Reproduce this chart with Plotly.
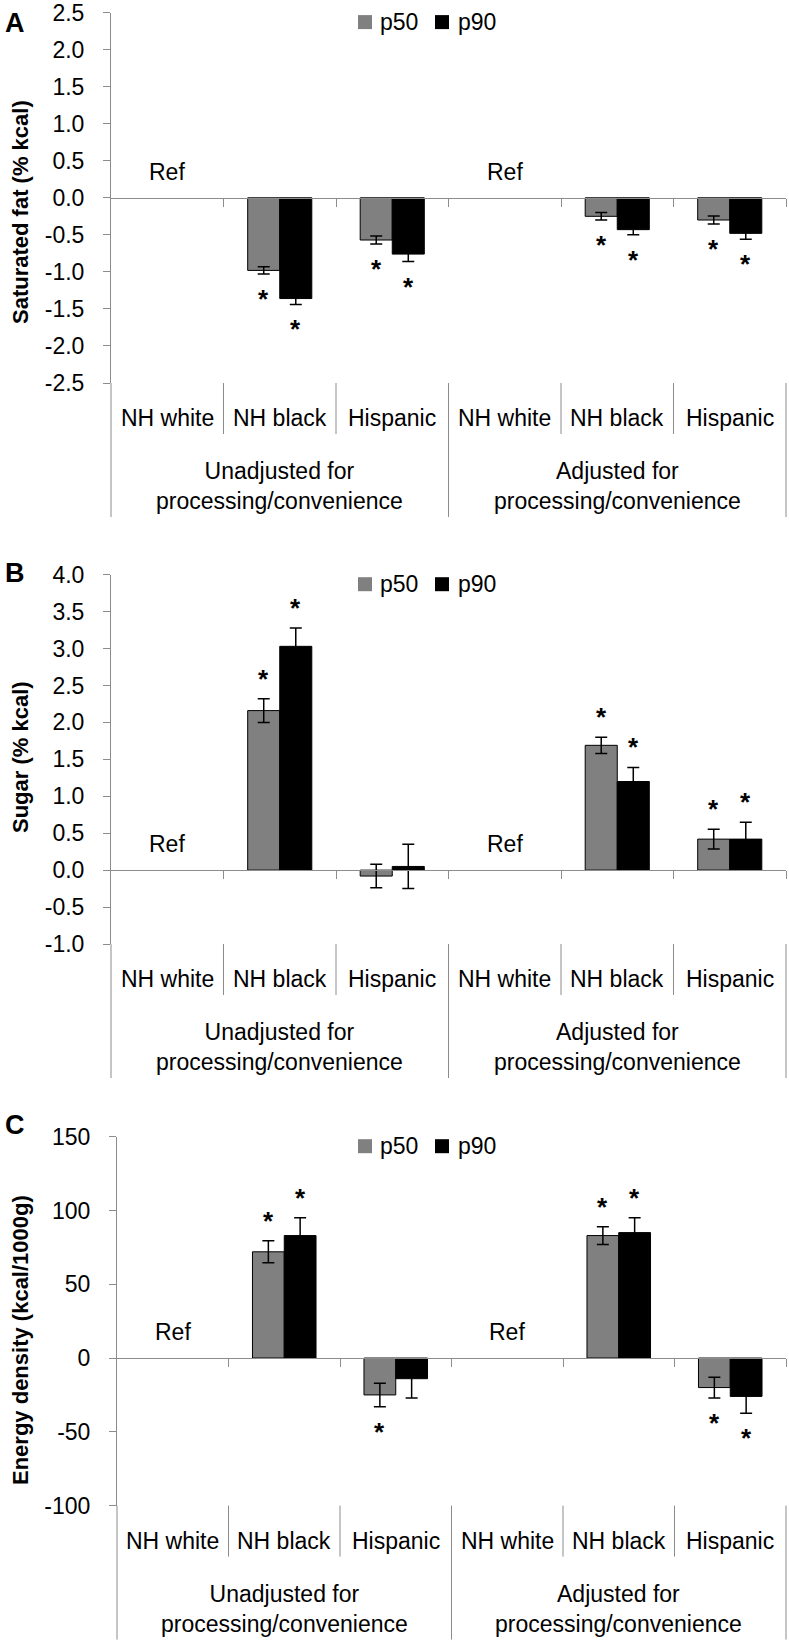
import plotly.graph_objects as go

# ---------------- data ----------------
categories = ["NH white", "NH black", "Hispanic", "NH white", "NH black", "Hispanic"]
groups = ["Unadjusted for<br>processing/convenience", "Adjusted for<br>processing/convenience"]
series_names = ["p50", "p90"]

# Panel A: Saturated fat (% kcal)
a_p50 = [None, -0.98, -0.57, None, -0.25, -0.30]
a_p50_err = [None, 0.05, 0.055, None, 0.05, 0.055]
a_p90 = [None, -1.36, -0.76, None, -0.43, -0.48]
a_p90_err = [None, 0.08, 0.10, None, 0.07, 0.08]
a_p50_sig = [0, 1, 1, 0, 1, 1]
a_p90_sig = [0, 1, 1, 0, 1, 1]

# Panel B: Sugar (% kcal)
b_p50 = [None, 2.16, -0.08, None, 1.69, 0.42]
b_p50_err = [None, 0.16, 0.16, None, 0.11, 0.135]
b_p90 = [None, 3.03, 0.05, None, 1.20, 0.42]
b_p90_err = [None, 0.25, 0.30, None, 0.19, 0.23]
b_p50_sig = [0, 1, 0, 0, 1, 1]
b_p90_sig = [0, 1, 0, 0, 1, 1]

# Panel C: Energy density (kcal/1000g)
c_p50 = [None, 72, -25, None, 83, -20]
c_p50_err = [None, 7.5, 8, None, 6, 7]
c_p90 = [None, 83, -14, None, 85, -26]
c_p90_err = [None, 12, 13, None, 10, 11.5]
c_p50_sig = [0, 1, 1, 0, 1, 1]
c_p90_sig = [0, 1, 0, 0, 1, 1]

a_ticks = [2.5, 2.0, 1.5, 1.0, 0.5, 0.0, -0.5, -1.0, -1.5, -2.0, -2.5]
a_ticktext = ["2.5", "2.0", "1.5", "1.0", "0.5", "0.0", "-0.5", "-1.0", "-1.5", "-2.0", "-2.5"]
b_ticks = [4.0, 3.5, 3.0, 2.5, 2.0, 1.5, 1.0, 0.5, 0.0, -0.5, -1.0]
b_ticktext = ["4.0", "3.5", "3.0", "2.5", "2.0", "1.5", "1.0", "0.5", "0.0", "-0.5", "-1.0"]
c_ticks = [150, 100, 50, 0, -50, -100]
c_ticktext = ["150", "100", "50", "0", "-50", "-100"]

ref_label = "Ref"
ref_index = [0, 3]
panel_letters = ["A", "B", "C"]
y_titles = ["Saturated fat (% kcal)", "Sugar (% kcal)", "Energy density (kcal/1000g)"]

# ---------------- layout / style ----------------
W, H = 789, 1643
FONT = "Liberation Sans, Arial, sans-serif"
GREY_AX = "#8c8c8c"
C50 = "#808080"
C90 = "#000000"
FS = 23
BARGAP = 0.43

panels = [
    dict(p50=a_p50, e50=a_p50_err, p90=a_p90, e90=a_p90_err, s50=a_p50_sig, s90=a_p90_sig,
         ticks=a_ticks, ticktext=a_ticktext, rng=[-2.5, 2.5],
         top=12.6, bottom=383.0, left=111, right=786, letter_y=23.5, title_y=212),
    dict(p50=b_p50, e50=b_p50_err, p90=b_p90, e90=b_p90_err, s50=b_p50_sig, s90=b_p90_sig,
         ticks=b_ticks, ticktext=b_ticktext, rng=[-1.0, 4.0],
         top=574.7, bottom=944.0, left=111, right=786, letter_y=573, title_y=757),
    dict(p50=c_p50, e50=c_p50_err, p90=c_p90, e90=c_p90_err, s50=c_p50_sig, s90=c_p90_sig,
         ticks=c_ticks, ticktext=c_ticktext, rng=[-100, 150],
         top=1136.7, bottom=1505.6, left=117, right=786, letter_y=1125, title_y=1340),
]


def py(p):
    return 1 - p / H


def px(p):
    return p / W


fig = go.Figure()
annotations = []
shapes = []
layout_axes = {}
ncat = len(categories)
bw = (1 - BARGAP) / 2

for k, P in enumerate(panels):
    sfx = "" if k == 0 else str(k + 1)
    xa, ya = "x" + sfx, "y" + sfx
    xdom = [px(P["left"]), px(P["right"])]
    ydom = [py(P["bottom"]), py(P["top"])]
    lo, hi = P["rng"]
    zero_paper = ydom[0] + (0 - lo) / (hi - lo) * (ydom[1] - ydom[0])

    for name, vals, errs, col in [("p50", P["p50"], P["e50"], C50), ("p90", P["p90"], P["e90"], C90)]:
        fig.add_trace(go.Bar(
            x=list(range(ncat)), y=vals, name=name, showlegend=False,
            marker=dict(color=col, line=dict(color="black", width=1)),
            error_y=dict(type="data", array=errs, visible=True, color="black", thickness=1.5, width=6),
            xaxis=xa, yaxis=ya,
        ))

    layout_axes["xaxis" + sfx] = dict(
        domain=xdom, range=[-0.5, ncat - 0.5], anchor="free", position=zero_paper,
        showline=True, linecolor=GREY_AX, linewidth=1, ticks="outside",
        tickvals=[i + 0.5 for i in range(ncat)], ticklen=8, tickcolor=GREY_AX,
        showticklabels=False, showgrid=False, zeroline=False, fixedrange=True,
        automargin=False,
    )
    layout_axes["yaxis" + sfx] = dict(
        domain=ydom, range=[lo, hi], anchor=xa, showline=True, linecolor=GREY_AX,
        linewidth=1, ticks="outside", ticklen=7, tickcolor=GREY_AX,
        tickvals=P["ticks"], ticktext=P["ticktext"], showgrid=False, zeroline=False,
        tickfont=dict(family=FONT, size=FS, color="black"), ticklabelstandoff=14,
        ticklabeloverflow="allow", fixedrange=True, automargin=False,
    )

    # significance asterisks
    for vals, errs, sig, off in [(P["p50"], P["e50"], P["s50"], -bw / 2), (P["p90"], P["e90"], P["s90"], bw / 2)]:
        for i in range(ncat):
            if vals[i] is None or not sig[i]:
                continue
            v, e = vals[i], errs[i]
            tip = v + e if v >= 0 else v - e
            annotations.append(dict(
                x=i + off, y=tip, xref=xa, yref=ya, text="<b>*</b>", showarrow=False,
                xanchor="center", yanchor="middle", yshift=20 if v >= 0 else -25,
                font=dict(family=FONT, size=26, color="black"),
            ))

    # Ref labels (placed just above the zero line)
    for i in ref_index:
        annotations.append(dict(
            x=i, y=0.07 * (hi - lo), xref=xa, yref=ya,
            text=ref_label, showarrow=False, xanchor="center", yanchor="middle",
            font=dict(family=FONT, size=FS, color="black"),
        ))

    # category labels + dividers below plot
    def catx(v, xdom=xdom):
        return xdom[0] + (v + 0.5) / ncat * (xdom[1] - xdom[0])

    yb = py(P["bottom"])
    for i, c in enumerate(categories):
        annotations.append(dict(
            x=catx(i), y=yb, xref="paper", yref="paper", text=c, showarrow=False,
            xanchor="center", yanchor="middle", yshift=-35,
            font=dict(family=FONT, size=FS, color="black"),
        ))
    for g, gname in enumerate(groups):
        annotations.append(dict(
            x=catx(g * 3 + 1), y=yb, xref="paper", yref="paper", text=gname, showarrow=False,
            xanchor="center", yanchor="middle", yshift=-103,
            font=dict(family=FONT, size=FS, color="black"),
        ))
    for b in range(ncat + 1):
        bx = catx(b - 0.5)
        long = (b % 3 == 0)
        shapes.append(dict(
            type="line", xref="paper", yref="paper", x0=bx, x1=bx,
            y0=yb, y1=py(P["bottom"] + (134 if long else 51)),
            line=dict(color=GREY_AX, width=1),
        ))

    # legend (manual)
    ly = P["top"] + 9.5
    for name, col, sx0, tx in [("p50", C50, 358, 378), ("p90", C90, 435, 456)]:
        shapes.append(dict(
            type="rect", xref="paper", yref="paper",
            x0=px(sx0), x1=px(sx0 + 14), y0=py(ly - 7), y1=py(ly + 7),
            fillcolor=col, line=dict(width=0),
        ))
        annotations.append(dict(
            x=px(tx), y=py(ly), xref="paper", yref="paper", text=name, showarrow=False,
            xanchor="left", yanchor="middle", font=dict(family=FONT, size=FS, color="black"),
        ))

    # panel letter
    annotations.append(dict(
        x=px(15), y=py(P["letter_y"]), xref="paper", yref="paper", text="<b>%s</b>" % panel_letters[k],
        showarrow=False, xanchor="center", yanchor="middle",
        font=dict(family=FONT, size=27, color="black"),
    ))
    # y title
    annotations.append(dict(
        x=px(20), y=py(P["title_y"]), xref="paper", yref="paper", text="<b>%s</b>" % y_titles[k],
        showarrow=False, xanchor="center", yanchor="middle", textangle=-90,
        font=dict(family=FONT, size=22, color="black"),
    ))

fig.update_layout(
    width=W, height=H, autosize=False,
    margin=dict(l=0, r=0, t=0, b=0, pad=0),
    paper_bgcolor="white", plot_bgcolor="white",
    barmode="group", bargap=BARGAP, bargroupgap=0,
    annotations=annotations, shapes=shapes,
    font=dict(family=FONT, size=FS, color="black"),
    **layout_axes,
)

fig.write_html("out.html", config={"displayModeBar": False},
               post_script="document.body.style.margin='0px';")
